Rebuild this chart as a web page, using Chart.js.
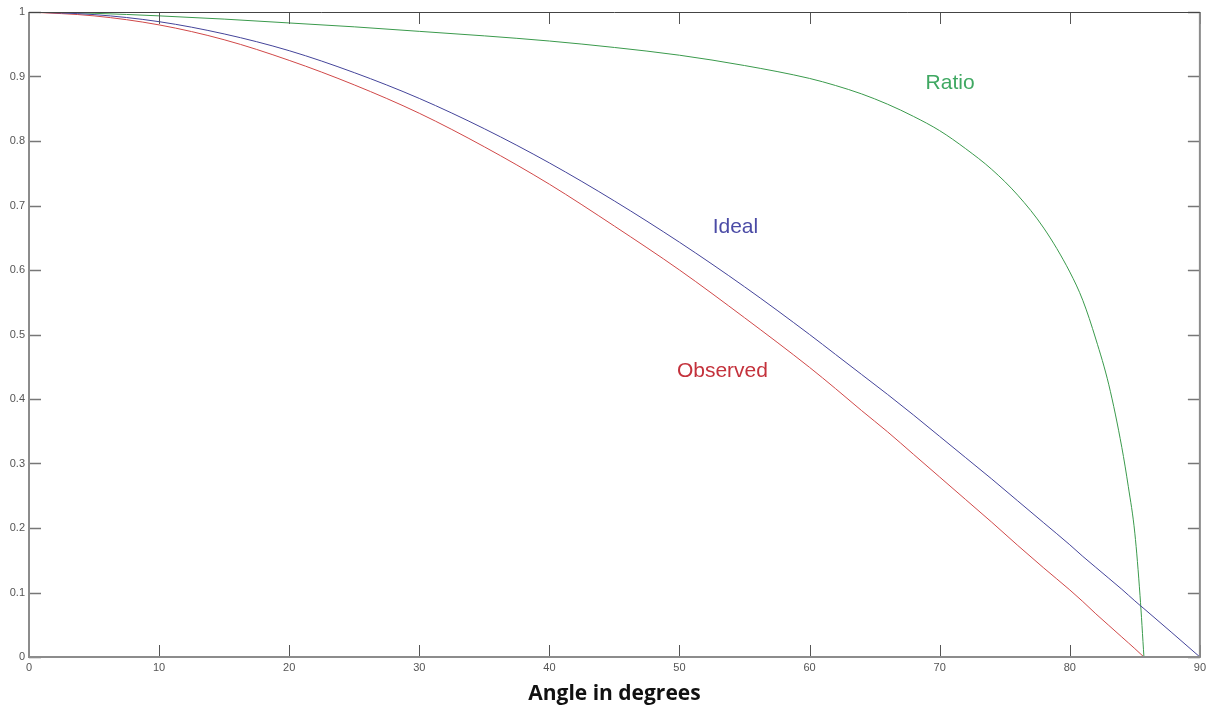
<!DOCTYPE html>
<html>
<head>
<meta charset="utf-8">
<script src="https://cdn.jsdelivr.net/npm/chart.js@4.4.1/dist/chart.umd.min.js"></script>
<style>
	html, body { margin: 0; padding: 0; background: #fff; }
	#wrap { width: 1210px; height: 715px; }
</style>
</head>
<body>
<div id="wrap"><canvas id="myChart" width="1210" height="715"></canvas></div>
<script>
// 값
var angles = [0, 5, 10, 15, 20, 25, 30, 35, 40, 45, 50, 55, 60, 62, 64, 66, 68, 70, 72, 74, 76, 78, 80, 81, 82, 83, 84, 84.5, 85, 85.4, 85.7, 90];
var ideal = [1, 0.996, 0.985, 0.966, 0.940, 0.906, 0.866, 0.819, 0.766, 0.707, 0.643, 0.574, 0.500, 0.469, 0.438, 0.407, 0.375, 0.342, 0.309, 0.276, 0.242, 0.208, 0.174, 0.156, 0.139, 0.122, 0.105, 0.096, 0.087, 0.080, 0.075, 0];
var observed = [1, 0.994, 0.980, 0.957, 0.925, 0.887, 0.843, 0.791, 0.733, 0.668, 0.600, 0.526, 0.449, 0.416, 0.382, 0.349, 0.314, 0.279, 0.244, 0.209, 0.173, 0.138, 0.104, 0.086, 0.067, 0.049, 0.031, 0.022, 0.013, 0.0055, 0, null];
var ratio = [1, 0.998, 0.994, 0.989, 0.983, 0.977, 0.970, 0.963, 0.955, 0.945, 0.933, 0.917, 0.897, 0.886, 0.873, 0.857, 0.838, 0.816, 0.788, 0.756, 0.716, 0.665, 0.597, 0.553, 0.493, 0.422, 0.325, 0.264, 0.192, 0.095, 0, null];
var xTicks = [0, 10, 20, 30, 40, 50, 60, 70, 80, 90];
var yTicks = [0, 0.1, 0.2, 0.3, 0.4, 0.5, 0.6, 0.7, 0.8, 0.9, 1];

// 곡선 이름표 (데이터 좌표)
var curveLabels = [
	{ text : 'Ideal', x : 54.3, y : 0.667, color : '#4b4ba6' },
	{ text : 'Observed', x : 53.3, y : 0.443, color : '#c4323c' },
	{ text : 'Ratio', x : 70.8, y : 0.890, color : '#3fa862' }
];

function toPoints(values) {
	var points = [];
	for (var i = 0; i < angles.length; i++) {
		if (values[i] !== null) {
			points.push({ x : angles[i], y : values[i] });
		}
	}
	return points;
}

function lineSet(label, values, color) {
	return {
		label : label,
		data : toPoints(values),
		borderColor : color,
		borderWidth : 1,
		pointRadius : 0,
		fill : false,
		cubicInterpolationMode : 'monotone'
	};
}

// MATLAB 스타일 테두리와 안쪽 눈금
var framePlugin = {
	id : 'frame',
	afterDraw : function(chart) {
		var ctx = chart.ctx;
		var area = chart.chartArea;
		var xs = chart.scales.x;
		var ys = chart.scales.y;
		var len = 12;
		ctx.save();
		ctx.lineWidth = 1;
		ctx.strokeStyle = '#555';
		ctx.beginPath();
		for (var i = 0; i < xTicks.length; i++) {
			var px = Math.round(xs.getPixelForValue(xTicks[i])) + 0.5;
			ctx.moveTo(px, area.bottom);
			ctx.lineTo(px, area.bottom - len);
			ctx.moveTo(px, area.top);
			ctx.lineTo(px, area.top + len);
		}
		ctx.stroke();
		ctx.strokeStyle = '#777';
		ctx.lineWidth = 1.5;
		ctx.beginPath();
		for (var j = 0; j < yTicks.length; j++) {
			var py = Math.round(ys.getPixelForValue(yTicks[j])) + 0.5;
			ctx.moveTo(area.left, py);
			ctx.lineTo(area.left + len, py);
			ctx.moveTo(area.right, py);
			ctx.lineTo(area.right - len, py);
		}
		ctx.stroke();
		// 테두리
		ctx.strokeStyle = '#8c8c8c';
		ctx.lineWidth = 2;
		ctx.beginPath();
		ctx.moveTo(area.left, area.top);
		ctx.lineTo(area.left, area.bottom);
		ctx.lineTo(area.right, area.bottom);
		ctx.lineTo(area.right, area.top);
		ctx.stroke();
		ctx.strokeStyle = '#444';
		ctx.lineWidth = 1;
		ctx.beginPath();
		ctx.moveTo(area.left, area.top + 0.5);
		ctx.lineTo(area.right, area.top + 0.5);
		ctx.stroke();
		// 곡선 이름
		ctx.font = '21px "Liberation Sans", Arial, sans-serif';
		ctx.textAlign = 'center';
		ctx.textBaseline = 'middle';
		for (var k = 0; k < curveLabels.length; k++) {
			var c = curveLabels[k];
			ctx.fillStyle = c.color;
			ctx.fillText(c.text, xs.getPixelForValue(c.x), ys.getPixelForValue(c.y));
		}
		ctx.restore();
	}
};

var ctx = document.getElementById('myChart');
var myLineChart = new Chart(ctx, {
	type : 'line',
	data : {
		datasets : [
			lineSet('Ideal', ideal, '#44449a'),
			lineSet('Observed', observed, '#d04848'),
			lineSet('Ratio', ratio, '#3a9a4c')
		]
	},
	options : {
		responsive : false,
		animation : false,
		layout : {
			padding : { top : 12, right : 7, left : 0, bottom : 0 }
		},
		plugins : {
			legend : { display : false },
			tooltip : { enabled : false }
		},
		scales : {
			x : {
				type : 'linear',
				min : 0,
				max : 90,
				afterFit : function(scale) { scale.height = 58; },
				afterBuildTicks : function(scale) {
					scale.ticks = xTicks.map(function(v) { return { value : v }; });
				},
				grid : { display : false, drawTicks : false },
				border : { display : false },
				ticks : {
					padding : 4,
					color : '#555',
					maxRotation : 0,
					callback : function(value) { return String(value); },
					font : { family : '"Liberation Sans", Arial, sans-serif', size : 11 }
				},
				title : {
					display : true,
					text : 'Angle in degrees',
					color : '#111',
					padding : { top : 0, bottom : 8 },
					font : { family : '"Open Sans", sans-serif', size : 21, weight : 'bold' }
				}
			},
			y : {
				min : 0,
				max : 1,
				afterFit : function(scale) { scale.width = 29; },
				afterBuildTicks : function(scale) {
					scale.ticks = yTicks.map(function(v) { return { value : v }; });
				},
				grid : { display : false, drawTicks : false },
				border : { display : false },
				ticks : {
					padding : 4,
					color : '#555',
					callback : function(value) { return String(value); },
					font : { family : '"Liberation Sans", Arial, sans-serif', size : 11 }
				}
			}
		}
	},
	plugins : [ framePlugin ]
});
</script>
</body>
</html>
